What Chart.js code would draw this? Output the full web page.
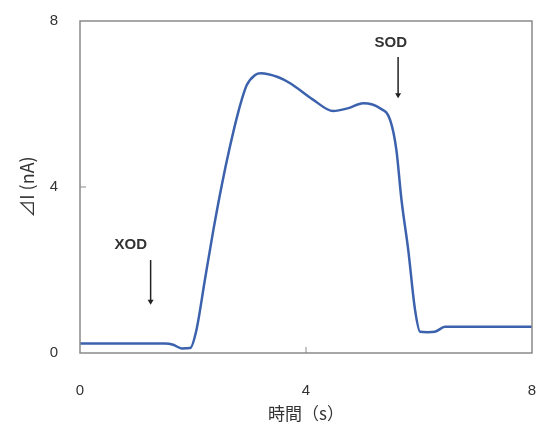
<!DOCTYPE html>
<html>
<head>
<meta charset="utf-8">
<script src="https://cdn.jsdelivr.net/npm/chart.js@4/dist/chart.umd.min.js"></script>
<style>
    html, body { margin: 0; padding: 0; background: #fff; }
</style>
</head>
<body>
<canvas id="currentChart" width="538" height="424"></canvas>
<script>
// ========== DATA ==========
const timeSec = [0, 1.0, 1.5, 1.65, 1.8, 1.95, 2.06, 2.21, 2.36, 2.51, 2.65, 2.8, 2.95, 3.1, 3.2, 3.5, 3.72, 4.13, 4.48, 4.75, 5.01, 5.31, 5.49, 5.6, 5.69, 5.81, 5.93, 6.02, 6.15, 6.28, 6.46, 7.0, 8.0];
const deltaI = [0.23, 0.23, 0.23, 0.2, 0.11, 0.12, 0.55, 1.76, 2.96, 4.05, 4.95, 5.8, 6.45, 6.7, 6.74, 6.65, 6.5, 6.1, 5.83, 5.9, 6.02, 5.9, 5.61, 4.89, 3.69, 2.48, 1.04, 0.51, 0.5, 0.51, 0.63, 0.63, 0.63];
const xTicks = [0, 4, 8];
const yTicks = [0, 4, 8];
const xTitle = '時間（s）';
const yTitle = '⊿I (nA)';
// annotation labels: text position + arrow (start -> tip) in data units
const markers = [
    { label: 'XOD', tx: 0.90, ty: 2.60, ax: 1.25, from: 2.24, to: 1.16 },
    { label: 'SOD', tx: 5.50, ty: 7.47, ax: 5.63, from: 7.13, to: 6.14 }
];

const FONT = "'Liberation Sans', Arial, 'Noto Sans CJK JP', sans-serif";
const TEXT = '#333';
const FRAME = '#8a8a8a';

// frame around plot, inner ticks and the arrow labels
const framePlugin = {
    id: 'frameAndMarkers',
    afterDraw(chart) {
        const { ctx, chartArea: a, scales } = chart;
        ctx.save();
        ctx.strokeStyle = FRAME;
        ctx.lineWidth = 1.5;
        ctx.strokeRect(a.left, a.top, a.right - a.left, a.bottom - a.top);
        // small inner tick marks
        ctx.lineWidth = 1;
        yTicks.slice(1, -1).forEach(v => {
            const y = scales.y.getPixelForValue(v);
            ctx.beginPath(); ctx.moveTo(a.left, y); ctx.lineTo(a.left + 6, y); ctx.stroke();
        });
        xTicks.slice(1, -1).forEach(v => {
            const x = scales.x.getPixelForValue(v);
            ctx.beginPath(); ctx.moveTo(x, a.bottom); ctx.lineTo(x, a.bottom - 6); ctx.stroke();
        });
        // markers
        markers.forEach(m => {
            ctx.fillStyle = '#333';
            ctx.font = "bold 15px 'Liberation Sans', Arial, sans-serif";
            ctx.textAlign = 'center';
            ctx.textBaseline = 'middle';
            ctx.fillText(m.label, scales.x.getPixelForValue(m.tx), scales.y.getPixelForValue(m.ty));
            const x = scales.x.getPixelForValue(m.ax);
            const y1 = scales.y.getPixelForValue(m.from);
            const y2 = scales.y.getPixelForValue(m.to);
            ctx.strokeStyle = '#222';
            ctx.lineWidth = 1.5;
            ctx.beginPath(); ctx.moveTo(x, y1); ctx.lineTo(x, y2 - 4); ctx.stroke();
            ctx.fillStyle = '#222';
            ctx.beginPath();
            ctx.moveTo(x - 3, y2 - 5); ctx.lineTo(x + 3, y2 - 5); ctx.lineTo(x, y2); ctx.closePath();
            ctx.fill();
        });
        ctx.restore();
    }
};

const chart = new Chart(document.getElementById('currentChart'), {
    type: 'line',
    data: {
        datasets: [{
            data: timeSec.map((t, i) => ({ x: t, y: deltaI[i] })),
            borderColor: '#3c62ad',
            borderWidth: 2.5,
            pointRadius: 0,
            fill: false,
            cubicInterpolationMode: 'monotone'
        }]
    },
    options: {
        responsive: false,
        animation: false,
        layout: { padding: { left: 0, right: 6, top: 21, bottom: 0 } },
        plugins: {
            legend: { display: false },
            tooltip: { enabled: false }
        },
        scales: {
            x: {
                type: 'linear',
                min: 0, max: 8,
                afterBuildTicks: s => { s.ticks = xTicks.map(v => ({ value: v })); },
                grid: { display: false, drawTicks: false },
                border: { display: false },
                ticks: { color: TEXT, font: { family: FONT, size: 15 }, padding: 29, maxRotation: 0 },
                title: { display: true, text: xTitle, color: TEXT, font: { family: "'Noto Sans CJK JP', sans-serif", size: 17 }, padding: { top: 0, bottom: 0 } },
                afterFit: s => { s.height = 71; s.paddingLeft = 0; s.paddingRight = 0; }
            },
            y: {
                min: 0, max: 8,
                afterBuildTicks: s => { s.ticks = yTicks.map(v => ({ value: v })); },
                grid: { display: false, drawTicks: false },
                border: { display: false },
                ticks: { color: TEXT, font: { family: FONT, size: 15 }, padding: 22 },
                title: { display: true, text: yTitle, color: TEXT, font: { family: "'Noto Sans CJK JP', sans-serif", size: 18 }, padding: { top: 16, bottom: 0 } },
                afterFit: s => { s.width = 80; s.paddingTop = 0; s.paddingBottom = 0; }
            }
        }
    },
    plugins: [framePlugin]
});
</script>
</body>
</html>
